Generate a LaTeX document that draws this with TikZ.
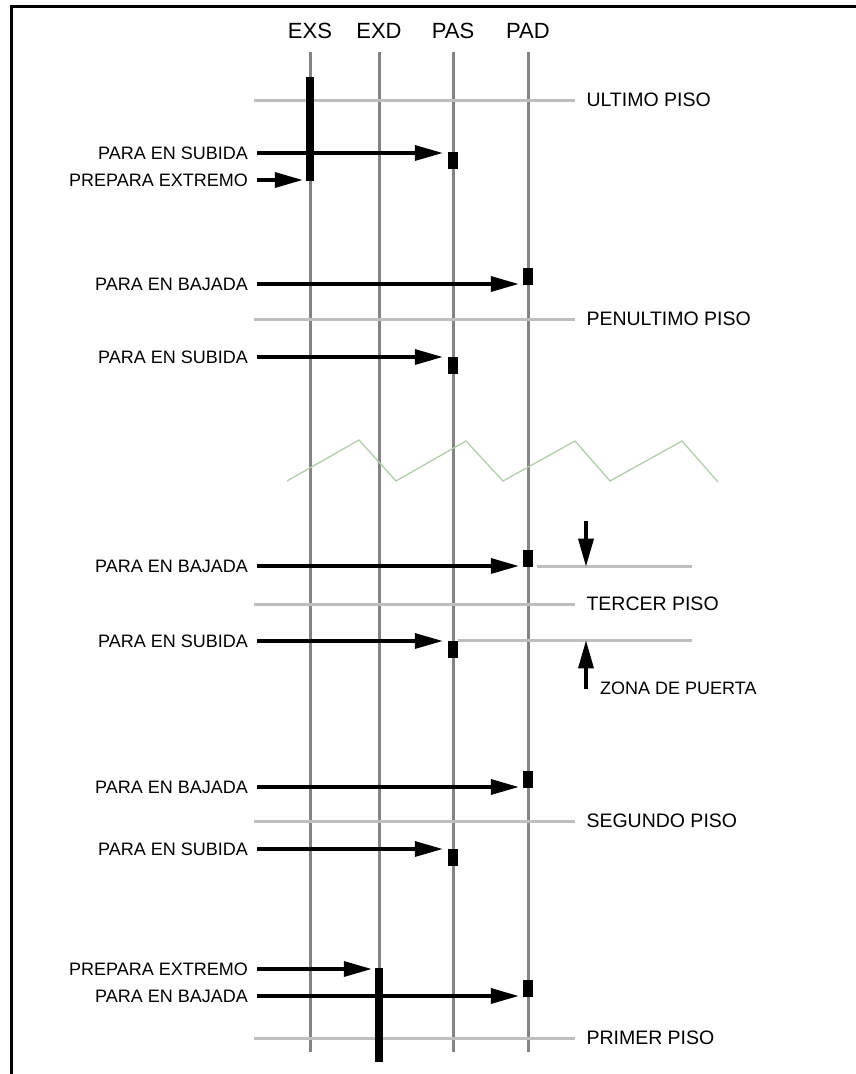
\documentclass[tikz,border=0pt]{standalone}
\usepackage{fontspec}
\setmainfont{Liberation Sans}
\usepackage{tikz}
\usetikzlibrary{arrows.meta, calc}

\definecolor{railgray}{RGB}{132,132,132}
\definecolor{floorgray}{RGB}{190,190,190}
\definecolor{ziggreen}{RGB}{178,204,172}

\tikzset{
  rail/.style={draw=railgray, line width=3pt},
  floor/.style={draw=floorgray, line width=3pt},
  cmd/.style={-{Triangle[length=28pt,width=15pt]}, line width=3.4pt, shorten <=9pt},
  rowlbl/.style={anchor=east, inner sep=0pt, font=\fontsize{18}{18}\selectfont},
  floorlbl/.style={right, inner sep=0pt, xshift=10pt, font=\fontsize{19.5}{19.5}\selectfont},
  toplbl/.style={inner sep=0pt, font=\fontsize{22}{22}\selectfont},
  stopblk/.style={fill=black, minimum width=10pt, minimum height=17pt, inner sep=0pt},
  endbar/.style={fill=black, minimum width=8pt, inner sep=0pt},
}

\begin{document}
\begin{tikzpicture}[x=1pt, y=-1pt]
\useasboundingbox (0,0) rectangle (856,1074);

% Frame (cut at right and bottom)
\draw[line width=3pt] (11,1100) -- (11,6) -- (880,6);

% Signals
\foreach \n/\x in {EXS/310, EXD/379, PAS/453, PAD/528} {
  \node[toplbl] (\n) at (\x,31) {\n};
  \coordinate (\n-t) at (\x,52);
  \coordinate (\n-b) at (\x,1052);
  \draw[rail] (\n-t) -- (\n-b);
}

% Floors
\draw[floor] (254,100) -- (575,100) node[floorlbl] (ultimo) {ULTIMO PISO};
\draw[floor] (254,319) -- (575,319) node[floorlbl] (penultimo) {PENULTIMO PISO};
\draw[floor] (254,604) -- (575,604) node[floorlbl] (tercer) {TERCER PISO};
\draw[floor] (254,821) -- (575,821) node[floorlbl] (segundo) {SEGUNDO PISO};
\draw[floor] (254,1038) -- (575,1038) node[floorlbl] (primer) {PRIMER PISO};

% Break
\draw[ziggreen, line width=1.3pt] (287,481) -- (359,440) -- (396,481) -- (466,441)
  -- (503,481) -- (575,441) -- (610,481) -- (682,441) -- (718,482);

% Extreme bars
\node[endbar, minimum height=104pt] (exsbar) at (310,129) {};
\node[endbar, minimum height=94pt] (exdbar) at (379,1015) {};

% Stop blocks
\node[stopblk] (sub1blk) at (453,160) {};
\node[stopblk] (baj1blk) at (528,276) {};
\node[stopblk] (sub2blk) at (453,365) {};
\node[stopblk] (baj2blk) at (528,558) {};
\node[stopblk] (sub3blk) at (453,649) {};
\node[stopblk] (baj3blk) at (528,779) {};
\node[stopblk] (sub4blk) at (453,857) {};
\node[stopblk] (baj4blk) at (528,988) {};

% Row labels
\node[rowlbl] (sub1) at (248,153) {PARA EN SUBIDA};
\node[rowlbl] (prep1) at (248,180) {PREPARA EXTREMO};
\node[rowlbl] (baj1) at (248,284) {PARA EN BAJADA};
\node[rowlbl] (sub2) at (248,357) {PARA EN SUBIDA};
\node[rowlbl] (baj2) at (248,566) {PARA EN BAJADA};
\node[rowlbl] (sub3) at (248,641) {PARA EN SUBIDA};
\node[rowlbl] (baj3) at (248,787) {PARA EN BAJADA};
\node[rowlbl] (sub4) at (248,849) {PARA EN SUBIDA};
\node[rowlbl] (prep2) at (248,969) {PREPARA EXTREMO};
\node[rowlbl] (baj4) at (248,996) {PARA EN BAJADA};

% Commands
\draw[cmd, shorten >=5pt] (sub1.east) -- (sub1.east -| sub1blk.west);
\draw[cmd, shorten >=3pt] (prep1.east) -- (prep1.east -| exsbar.west);
\draw[cmd, shorten >=4pt] (baj1.east) -- (baj1.east -| baj1blk.west);
\draw[cmd, shorten >=5pt] (sub2.east) -- (sub2.east -| sub2blk.west);
\draw[cmd, shorten >=4pt] (baj2.east) -- (baj2.east -| baj2blk.west);
\draw[cmd, shorten >=5pt] (sub3.east) -- (sub3.east -| sub3blk.west);
\draw[cmd, shorten >=4pt] (baj3.east) -- (baj3.east -| baj3blk.west);
\draw[cmd, shorten >=5pt] (sub4.east) -- (sub4.east -| sub4blk.west);
\draw[cmd, shorten >=3pt] (prep2.east) -- (prep2.east -| exdbar.west);
\draw[cmd, shorten >=4pt] (baj4.east) -- (baj4.east -| baj4blk.west);

% Door zone
\coordinate (zoneR) at (692,0);
\coordinate (zoneup) at ([xshift=4pt]baj2blk.south east);
\coordinate (zonelo) at (sub3blk.north east);
\draw[floor] (zoneup) -- (zoneup -| zoneR);
\draw[floor] (zonelo) -- (zonelo -| zoneR);
\node[anchor=west, inner sep=0pt, font=\fontsize{18}{18}\selectfont] (zona) at (600,688) {ZONA DE PUERTA};
\coordinate (zd1) at (586,521);
\coordinate (zd2) at (586,689);
\draw[cmd, shorten <=0pt] (zd1) -- (zd1 |- zoneup);
\draw[cmd, shorten <=0pt] (zd2) -- (zd2 |- zonelo);

\end{tikzpicture}
\end{document}
